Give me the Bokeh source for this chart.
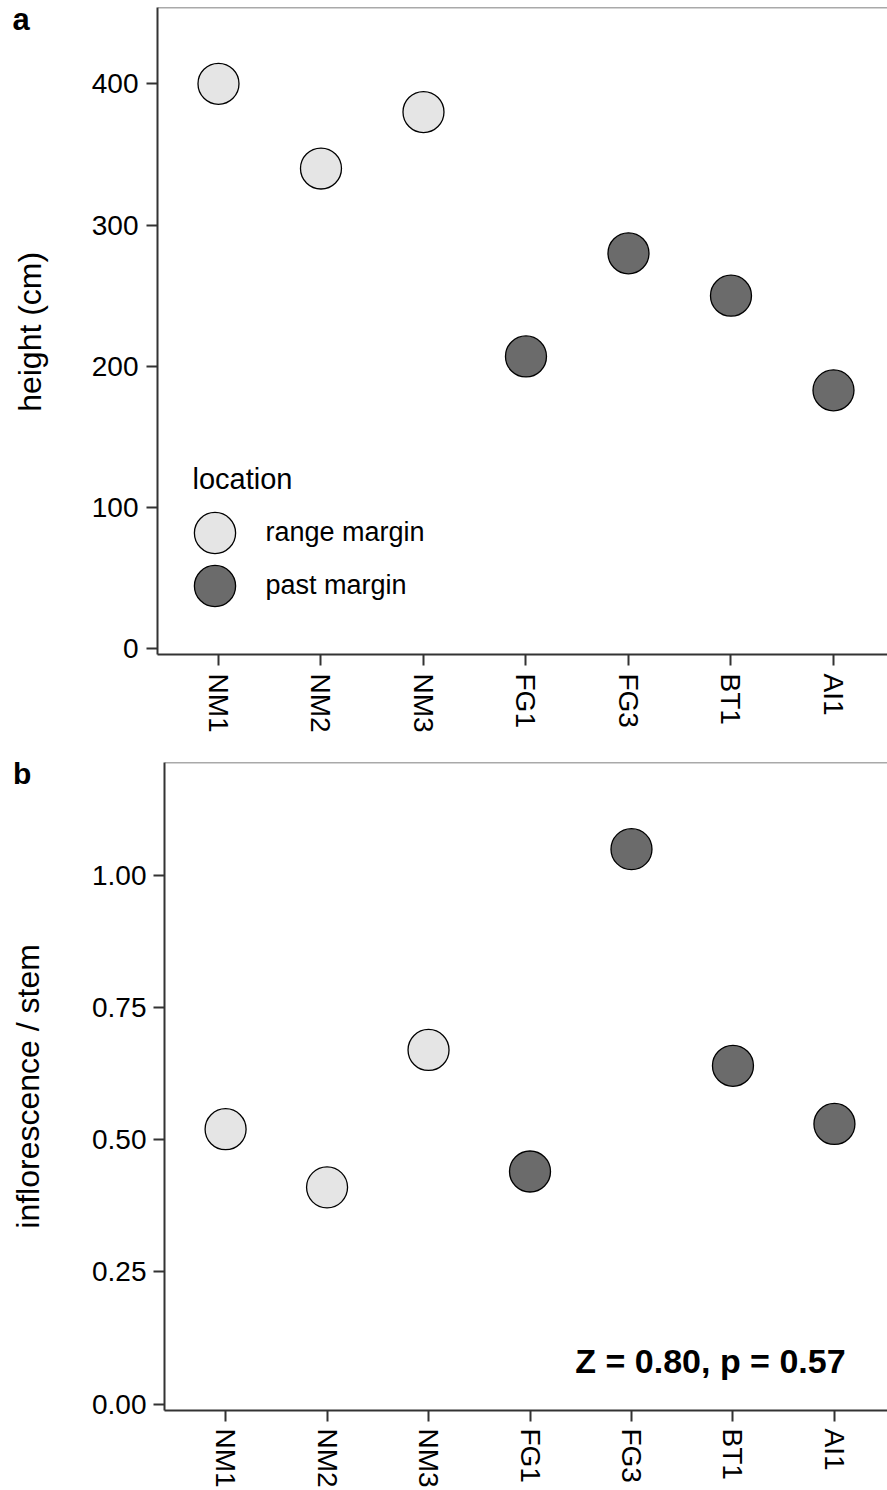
import math
from bokeh.plotting import figure
from bokeh.models import (ColumnDataSource, Range1d, FixedTicker, Legend, LegendItem,
                          Label, Span)
from bokeh.embed import file_html
from bokeh.resources import INLINE

sites = ["NM1", "NM2", "NM3", "FG1", "FG3", "BT1", "AI1"]
location = ["range margin", "range margin", "range margin",
            "past margin", "past margin", "past margin", "past margin"]
height_cm = [400, 340, 380, 207, 280, 250, 183]
infl_stem = [0.52, 0.41, 0.67, 0.44, 1.05, 0.64, 0.53]
y_ticks_a = [0, 100, 200, 300, 400]
y_ticks_b = [0.0, 0.25, 0.5, 0.75, 1.0]
y_tick_labels_b = ["0.00", "0.25", "0.50", "0.75", "1.00"]
groups = ["range margin", "past margin"]
group_colors = {"range margin": "#E5E5E5", "past margin": "#6B6B6B"}
stat_text = "Z = 0.80, p = 0.57"

FONT = "Liberation Sans"
xpos = [i + 1 for i in range(len(sites))]


def style(p, yticks, ylabels, tick_standoff):
    p.xaxis.ticker = FixedTicker(ticks=xpos)
    p.xaxis.major_label_overrides = {x: s for x, s in zip(xpos, sites)}
    p.xaxis.major_label_orientation = "vertical"
    p.yaxis.ticker = FixedTicker(ticks=yticks)
    p.yaxis.major_label_overrides = {t: l for t, l in zip(yticks, ylabels)}
    for ax in (p.xaxis, p.yaxis):
        ax.axis_line_color = "#333333"
        ax.axis_line_width = 2
        ax.major_tick_line_color = "#333333"
        ax.major_tick_line_width = 2
        ax.major_tick_out = 11
        ax.major_tick_in = 0
        ax.minor_tick_line_color = None
        ax.major_label_text_font = FONT
        ax.major_label_text_font_size = "28px"
        ax.major_label_text_color = "black"
        ax.major_label_standoff = tick_standoff
    p.xgrid.visible = False
    p.ygrid.visible = False
    p.outline_line_color = None
    p.add_layout(Span(location=p.y_range.end, dimension="width",
                      line_color="#555555", line_width=1.5))


def side_label(p, x, y, text, size, bold=False, angle=0.0):
    lab = Label(x=x, y=y, text=text, text_font=FONT, text_font_size=size,
                text_font_style="bold" if bold else "normal", text_color="black",
                angle=angle, text_align="center" if angle else "left",
                text_baseline="middle" if angle else "alphabetic")
    p.add_layout(lab, "left")


def scatter_groups(p, yvals):
    rends = {}
    for g in groups:
        idx = [i for i, l in enumerate(location) if l == g]
        src = ColumnDataSource(dict(x=[xpos[i] for i in idx], y=[yvals[i] for i in idx]))
        rends[g] = p.scatter("x", "y", source=src, size=41, fill_color=group_colors[g],
                             line_color="black", line_width=1.3)
    return rends


# Panel a
pa = figure(width=887, height=740, output_backend="svg", toolbar_location=None,
            x_range=Range1d(0.405, 7.527), y_range=Range1d(-4.0, 454.0),
            min_border_left=157, min_border_right=0, min_border_top=7,
            min_border_bottom=86, background_fill_color="white")
style(pa, y_ticks_a, [str(t) for t in y_ticks_a], 8)
ra = scatter_groups(pa, height_cm)
for g, loc in zip(groups, [(5.5, 70), (5.5, 17)]):
    pa.add_layout(Legend(items=[LegendItem(label=g, renderers=[ra[g]])],
                         location=loc, orientation="vertical",
                         glyph_width=103, glyph_height=103, label_standoff=0,
                         padding=0, margin=0, border_line_color=None,
                         background_fill_alpha=0, label_text_font=FONT,
                         label_text_font_size="27px", label_text_color="black"))
pa.add_layout(Label(x=0.746, y=120.0, text="location", text_font=FONT,
                    text_font_size="29px", text_color="black", text_baseline="alphabetic"))
side_label(pa, -1.01, 445.5, "a", "31px", bold=True)
side_label(pa, -0.84, 224.4, "height (cm)", "32px", angle=math.pi / 2)

# Panel b
pb = figure(width=887, height=750, output_backend="svg", toolbar_location=None,
            x_range=Range1d(0.398, 7.523), y_range=Range1d(-0.0123, 1.214),
            min_border_left=164, min_border_right=0, min_border_top=22,
            min_border_bottom=80, background_fill_color="white")
style(pb, y_ticks_b, y_tick_labels_b, 7)
scatter_groups(pb, infl_stem)
pb.add_layout(Label(x=7.11, y=0.081, text=stat_text, text_font=FONT,
                    text_font_size="34px", text_font_style="bold", text_color="black",
                    text_align="right", text_baseline="alphabetic"))
side_label(pb, -1.096, 1.193, "b", "30px", bold=True)
side_label(pb, -0.948, 0.601, "inflorescence / stem", "32px", angle=math.pi / 2)

open("out.html", "w").write(file_html((pa, pb), INLINE))
